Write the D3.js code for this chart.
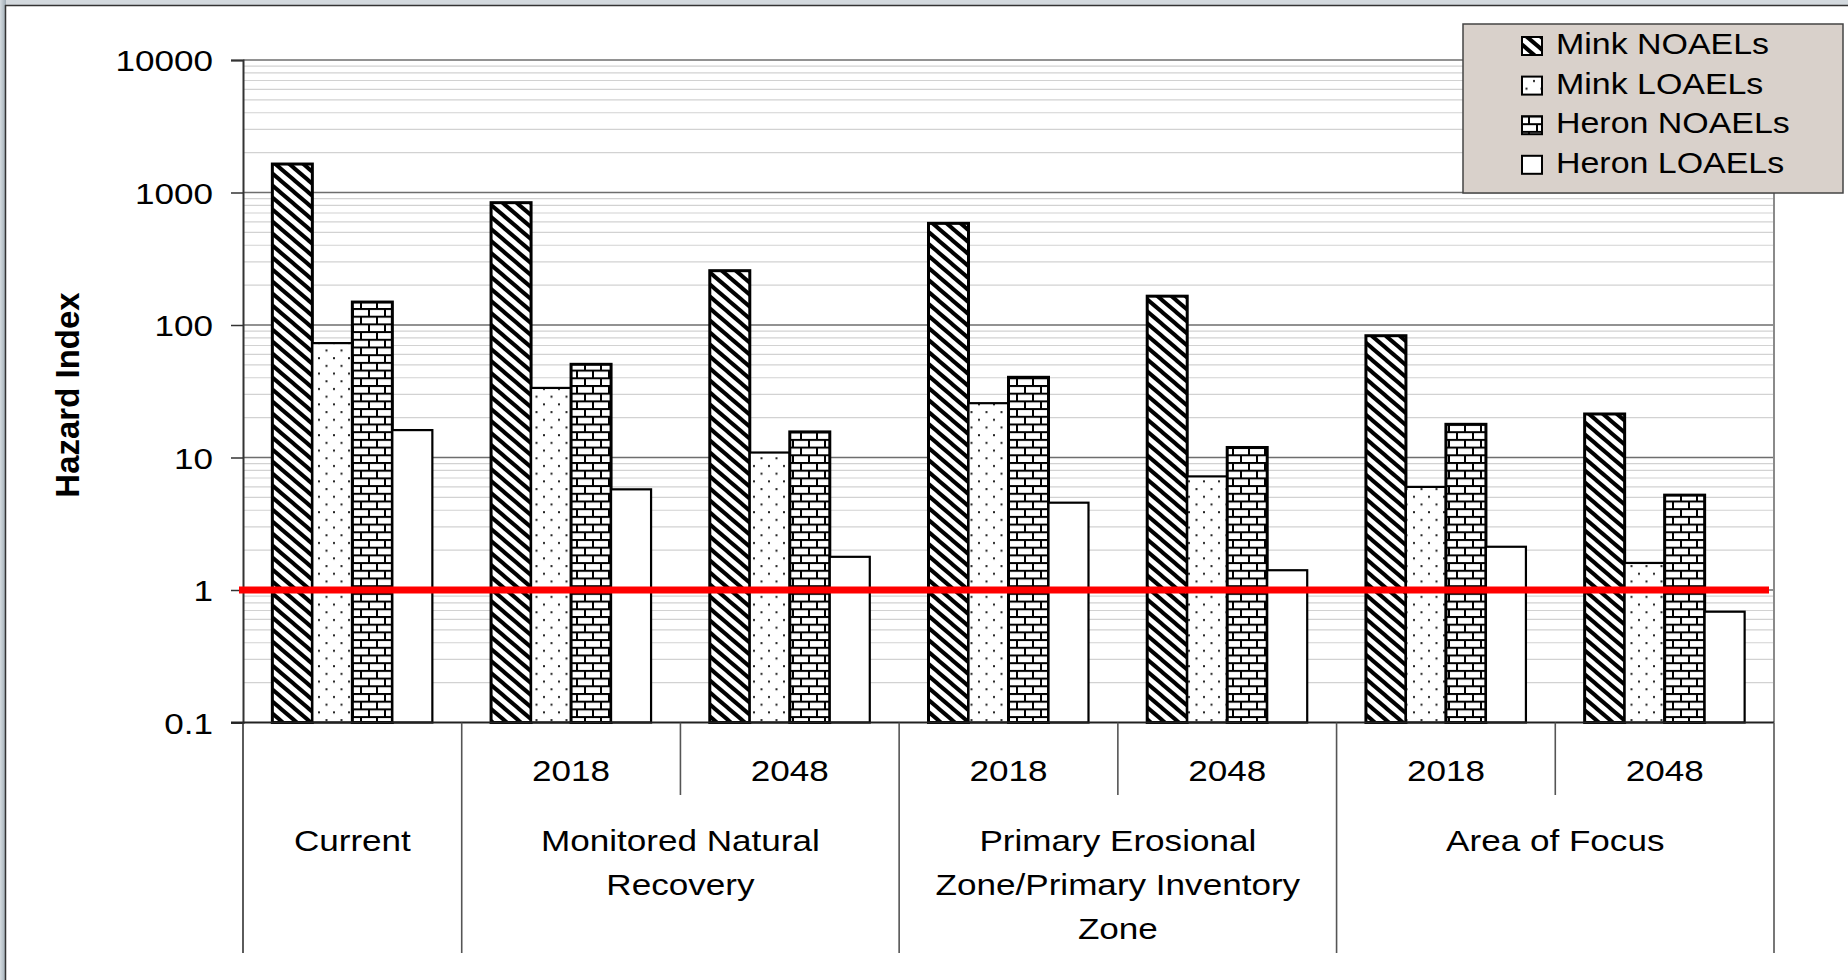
<!DOCTYPE html>
<html>
<head>
<meta charset="utf-8">
<script src="https://cdn.jsdelivr.net/npm/d3@7"></script>
<style>
  html, body { margin: 0; padding: 0; background: #ffffff; }
  svg { display: block; }
  text { font-family: "Liberation Sans", Arial, Helvetica, sans-serif; fill: #000; }
</style>
</head>
<body>
<svg id="chart" width="1848" height="980"></svg>
<script>
// ---- data ----------------------------------------------------------------
const clusterYears  = ["", "2018", "2048", "2018", "2048", "2018", "2048"];
const clusterGroup  = [0, 1, 1, 2, 2, 3, 3];
const groupLabels   = [
  ["Current"],
  ["Monitored Natural", "Recovery"],
  ["Primary Erosional", "Zone/Primary Inventory", "Zone"],
  ["Area of Focus"]
];
const seriesNames   = ["Mink NOAELs", "Mink LOAELs", "Heron NOAELs", "Heron LOAELs"];
const minkNOAEL     = [1640, 838, 257, 585, 165, 83, 21.3];
const minkLOAEL     = [73, 33.5, 10.9, 25.7, 7.2, 6.0, 1.6];
const heronNOAEL    = [149, 50.5, 15.6, 40.3, 11.9, 17.8, 5.2];
const heronLOAEL    = [16.1, 5.75, 1.78, 4.56, 1.41, 2.12, 0.686];
const tickValues    = [0.1, 1, 10, 100, 1000, 10000];
const tickLabels    = ["0.1", "1", "10", "100", "1000", "10000"];
const threshold     = 1;
const yTitle        = "Hazard Index";

const seriesValues = [minkNOAEL, minkLOAEL, heronNOAEL, heronLOAEL];

// ---- layout --------------------------------------------------------------
const W = 1848, H = 980;
const plot = { left: 243, right: 1774, top: 60, bottom: 722.5 };
const catBottom = 953, yearBottom = 795;
const SX = 1.17; // horizontal text stretch

const svg = d3.select("#chart");
const defs = svg.append("defs");

// window-like frame
const grad = defs.append("linearGradient").attr("id", "edgeGrad")
  .attr("x1", 0).attr("x2", 1).attr("y1", 0).attr("y2", 0);
grad.append("stop").attr("offset", 0).attr("stop-color", "#d4dbe0");
grad.append("stop").attr("offset", 1).attr("stop-color", "#9eabb4");
svg.append("rect").attr("width", W).attr("height", H).attr("fill", "#d3d9de");
svg.append("rect").attr("x", 0).attr("y", 0).attr("width", 6).attr("height", H).attr("fill", "url(#edgeGrad)");
svg.append("rect").attr("x", 6).attr("y", 5).attr("width", W - 6).attr("height", H - 5)
  .attr("fill", "#ffffff");
svg.append("line").attr("x1", 5.5).attr("x2", 5.5).attr("y1", 5).attr("y2", H).attr("stroke", "#333").attr("stroke-width", 1.5);
svg.append("line").attr("x1", 5).attr("x2", W).attr("y1", 5.5).attr("y2", 5.5).attr("stroke", "#333").attr("stroke-width", 1.5);

// ---- fill patterns -------------------------------------------------------
// diagonal hatch (top-left to bottom-right)
{
  const w = 14, h = 12;
  const p = defs.append("pattern").attr("id", "patDiag").attr("patternUnits", "userSpaceOnUse")
    .attr("width", w).attr("height", h);
  p.append("rect").attr("width", w).attr("height", h).attr("fill", "#fff");
  [[-w, -h, 2 * w, 2 * h], [-w, 0, w, 2 * h], [0, -h, 2 * w, h]].forEach(([x1, y1, x2, y2]) =>
    p.append("line").attr("x1", x1).attr("y1", y1).attr("x2", x2).attr("y2", y2)
      .attr("stroke", "#000").attr("stroke-width", 4));
}
// sparse dots
{
  const w = 15, h = 15.4;
  const p = defs.append("pattern").attr("id", "patDots").attr("patternUnits", "userSpaceOnUse")
    .attr("width", w).attr("height", h);
  p.append("rect").attr("width", w).attr("height", h).attr("fill", "#fff");
  [[3, 3], [10.5, 10.7]].forEach(([x, y]) =>
    p.append("rect").attr("x", x).attr("y", y).attr("width", 2).attr("height", 2).attr("fill", "#222"));
}
// brick
{
  const w = 16, h = 15.4, r = h / 2, m = 2;
  const p = defs.append("pattern").attr("id", "patBrick").attr("patternUnits", "userSpaceOnUse")
    .attr("width", w).attr("height", h);
  p.append("rect").attr("width", w).attr("height", h).attr("fill", "#fff");
  p.append("rect").attr("x", 0).attr("y", 0).attr("width", w).attr("height", m).attr("fill", "#000");
  p.append("rect").attr("x", 0).attr("y", r).attr("width", w).attr("height", m).attr("fill", "#000");
  p.append("rect").attr("x", 0).attr("y", 0).attr("width", m).attr("height", r).attr("fill", "#000");
  p.append("rect").attr("x", w / 2).attr("y", r).attr("width", m).attr("height", r).attr("fill", "#000");
}
const seriesFill   = ["url(#patDiag)", "url(#patDots)", "url(#patBrick)", "#ffffff"];
const seriesStroke = [3, 2.2, 3, 2.2];

// ---- scales --------------------------------------------------------------
const y = d3.scaleLog().domain([0.1, 10000]).range([plot.bottom, plot.top]);
const x = d3.scaleBand().domain(d3.range(clusterYears.length)).range([plot.left, plot.right])
  .paddingInner(0).paddingOuter(0);
const xs = d3.scaleBand().domain(d3.range(seriesNames.length)).range([0, x.bandwidth()])
  .paddingInner(0).paddingOuter(0.734);

// ---- gridlines -----------------------------------------------------------
const minorVals = [];
for (let e = -1; e < 4; e++) for (let k = 2; k <= 9; k++) minorVals.push(k * Math.pow(10, e));
svg.append("g").selectAll("line").data(minorVals).join("line")
  .attr("x1", plot.left).attr("x2", plot.right)
  .attr("y1", d => y(d)).attr("y2", d => y(d))
  .attr("stroke", "#d2d2d2").attr("stroke-width", 1.2);
svg.append("g").selectAll("line").data(tickValues.slice(1)).join("line")
  .attr("x1", plot.left).attr("x2", plot.right)
  .attr("y1", d => y(d)).attr("y2", d => y(d))
  .attr("stroke", "#6e6e6e").attr("stroke-width", 1.5);

// right plot border
svg.append("line").attr("x1", plot.right).attr("x2", plot.right)
  .attr("y1", plot.top).attr("y2", plot.bottom).attr("stroke", "#8a8a8a").attr("stroke-width", 2);

// ---- bars ----------------------------------------------------------------
const barData = [];
seriesValues.forEach((vals, s) => vals.forEach((v, c) => barData.push({ s, c, v })));
svg.append("g").selectAll("rect").data(barData).join("rect")
  .attr("x", d => x(d.c) + xs(d.s))
  .attr("width", xs.bandwidth())
  .attr("y", d => y(d.v))
  .attr("height", d => y(0.1) - y(d.v))
  .attr("fill", d => seriesFill[d.s])
  .attr("stroke", "#000")
  .attr("stroke-width", d => seriesStroke[d.s]);

// ---- y axis --------------------------------------------------------------
const yAxis = svg.append("g").attr("transform", `translate(${plot.left},0)`)
  .call(d3.axisLeft(y).tickValues(tickValues).tickSize(12).tickPadding(0)
    .tickFormat((d, i) => tickLabels[i]));
yAxis.select(".domain").attr("stroke", "#333").attr("stroke-width", 2);
yAxis.selectAll(".tick line").attr("stroke", "#333").attr("stroke-width", 1.5);
yAxis.selectAll(".tick text")
  .attr("x", -30 / SX).attr("dy", "0.36em")
  .attr("transform", `scale(${SX},1)`)
  .style("font-size", "30px").style("font-family", "'Liberation Sans', Arial, sans-serif")
  .attr("fill", "#000");

// x baseline
svg.append("line").attr("x1", plot.left - 12).attr("x2", plot.right)
  .attr("y1", plot.bottom).attr("y2", plot.bottom).attr("stroke", "#222").attr("stroke-width", 2);

// ---- threshold line -------------------------------------------------------
svg.append("line").attr("x1", plot.left - 4).attr("x2", plot.right - 5)
  .attr("y1", y(threshold)).attr("y2", y(threshold))
  .attr("stroke", "#ff0000").attr("stroke-width", 7);

// ---- category axis -------------------------------------------------------
function stretchedText(g, tx, ty, str, size, anchor, weight) {
  return g.append("text")
    .attr("transform", `translate(${tx},${ty}) scale(${SX},1)`)
    .attr("text-anchor", anchor || "middle")
    .style("font-size", size + "px")
    .style("font-weight", weight || "normal")
    .text(str);
}
const cat = svg.append("g");
d3.range(clusterYears.length + 1).forEach(i => {
  const xx = i < clusterYears.length ? x(i) : plot.right;
  const fullLine = i === 0 || i === clusterYears.length || clusterGroup[i] !== clusterGroup[i - 1];
  cat.append("line").attr("x1", xx).attr("x2", xx)
    .attr("y1", plot.bottom).attr("y2", fullLine ? catBottom : yearBottom)
    .attr("stroke", i === 0 ? "#333" : "#555").attr("stroke-width", 1.6);
});
clusterYears.forEach((yr, i) => {
  if (yr) stretchedText(cat, x(i) + x.bandwidth() / 2, 781, yr, 30);
});
groupLabels.forEach((lines, gi) => {
  const idx = clusterGroup.map((g, i) => g === gi ? i : -1).filter(i => i >= 0);
  const cx = (x(idx[0]) + x(idx[idx.length - 1]) + x.bandwidth()) / 2;
  lines.forEach((ln, li) => stretchedText(cat, cx, 851 + li * 44, ln, 30));
});

// ---- y title -------------------------------------------------------------
svg.append("text")
  .attr("transform", `translate(79,395) rotate(-90)`)
  .attr("text-anchor", "middle")
  .style("font-size", "33px").style("font-weight", "bold")
  .text(yTitle);

// ---- legend --------------------------------------------------------------
const lg = svg.append("g");
lg.append("rect").attr("x", 1463).attr("y", 24).attr("width", 380).attr("height", 169)
  .attr("fill", "#d9d1cb").attr("stroke", "#444").attr("stroke-width", 1.5);
seriesNames.forEach((name, i) => {
  const base = 54 + i * 39.6;
  lg.append("rect").attr("x", 1522).attr("y", base - 17).attr("width", 20).attr("height", 18)
    .attr("fill", seriesFill[i]).attr("stroke", "#000").attr("stroke-width", 2);
  stretchedText(lg, 1556, base, name, 29, "start");
});
</script>
</body>
</html>
